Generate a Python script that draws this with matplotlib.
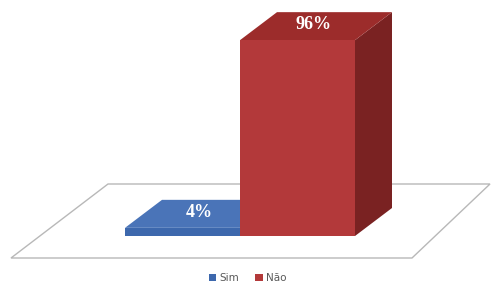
import matplotlib
matplotlib.use("Agg")
import matplotlib.pyplot as plt
from matplotlib.patches import Polygon, Patch

categories = ["Sim", "Não"]
values = [4, 96]
labels = ["4%", "96%"]
front_colors = ["#3d68ad", "#b3393a"]
top_colors = ["#4a74b8", "#9c2c2b"]
side_colors = ["#2e5290", "#7a2222"]

W, H = 495, 284
fig = plt.figure(figsize=(W / 100, H / 100), dpi=100)
ax = fig.add_axes([0, 0, 1, 1])
px_per_pct = 2.04
base_px = 236
ax.set_xlim(0, W)
ax.set_ylim((base_px - H) / px_per_pct, base_px / px_per_pct)
ax.axis("off")

def py(p):
    return (base_px - p) / px_per_pct

# floor
floor = Polygon([(108, py(184)), (490, py(184)), (412, py(258)), (11, py(258))],
                closed=True, facecolor="white", edgecolor="#b8b8b8", lw=1.0, zorder=1)
ax.add_patch(floor)

bar_w = 115
centers = [182.5, 297.5]
dx = 37
dy = 28 / px_per_pct

for i, (c, v) in enumerate(zip(centers, values)):
    z = 2 + i * 3
    x0, x1 = c - bar_w / 2, c + bar_w / 2
    ax.bar(c, v, width=bar_w, color=front_colors[i], edgecolor="none", zorder=z + 2)
    top = Polygon([(x0, v), (x1, v), (x1 + dx, v + dy), (x0 + dx, v + dy)],
                  closed=True, facecolor=top_colors[i], edgecolor="none", zorder=z + 1)
    side = Polygon([(x1, 0), (x1 + dx, dy), (x1 + dx, v + dy), (x1, v)],
                   closed=True, facecolor=side_colors[i], edgecolor="none", zorder=z)
    ax.add_patch(top)
    ax.add_patch(side)
    ax.text(c + dx / 2 - 2, v + dy / 2 + 0.8, labels[i], ha="center", va="center",
            color="white", fontsize=13, fontweight="bold",
            family="Liberation Serif", zorder=20)

handles = [Patch(facecolor=front_colors[i], edgecolor="none", label=categories[i])
           for i in range(len(categories))]
leg = ax.legend(handles=handles, loc="lower center", bbox_to_anchor=(0.5, -0.015),
                ncol=2, frameon=False, fontsize=7.5, handlelength=0.7, handleheight=0.7,
                handletextpad=0.3, columnspacing=1.6, borderaxespad=0.1)
for t in leg.get_texts():
    t.set_color("#595959")

fig.savefig("out.png", dpi=100, facecolor="white")
